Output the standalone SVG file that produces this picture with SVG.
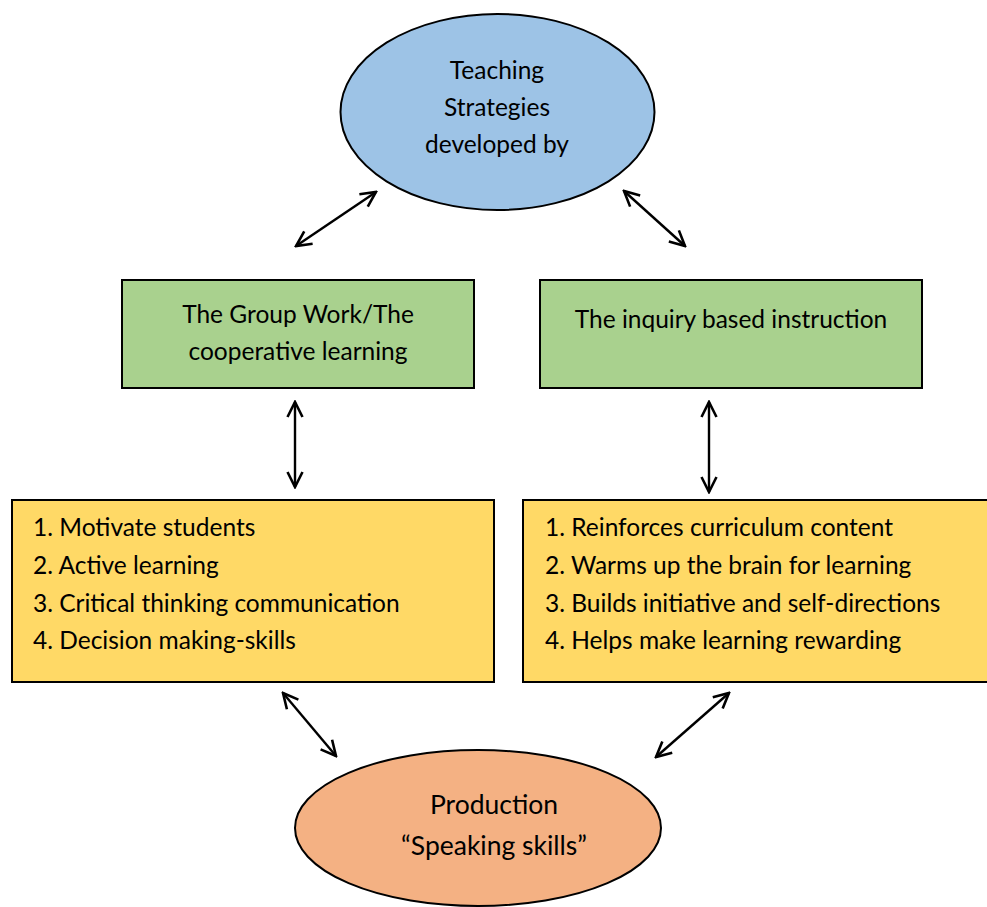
<svg xmlns="http://www.w3.org/2000/svg" width="987" height="907" viewBox="0 0 987 907">
<style>
text{font-family:"Lato","Liberation Sans",sans-serif;font-size:24.5px;fill:#000}
.c{text-anchor:middle}
.p{font-size:26.5px}
.n{stroke:#000;stroke-width:2}
.a{stroke:#000;stroke-width:2.4;fill:none;marker-start:url(#h);marker-end:url(#h)}
</style>
<defs>
<marker id="h" viewBox="-18 -10 20 20" refX="0" refY="0" markerWidth="20" markerHeight="20" markerUnits="userSpaceOnUse" orient="auto-start-reverse">
<path d="M-15,-7.5 L0,0 L-15,7.5" fill="none" stroke="#000" stroke-width="2.6" stroke-linejoin="miter"/>
</marker>
</defs>
<rect width="987" height="907" fill="#fff"/>
<g id="top">
<ellipse class="n" cx="497.5" cy="112" rx="157" ry="98" fill="#9DC3E6"/>
<text class="c" x="497" y="79">Teaching</text>
<text class="c" x="497" y="116">Strategies</text>
<text class="c" x="497" y="153">developed by</text>
</g>
<g id="group-work">
<rect class="n" x="122" y="280" width="352" height="108" fill="#A9D18E"/>
<text class="c" x="298" y="323">The Group Work/The</text>
<text class="c" x="298" y="360">cooperative learning</text>
</g>
<g id="inquiry">
<rect class="n" x="540" y="280" width="382" height="108" fill="#A9D18E"/>
<text class="c" x="731" y="328">The inquiry based instruction</text>
</g>
<g id="left-list">
<rect class="n" x="12" y="500" width="482" height="182" fill="#FFD966"/>
<text x="33" y="536">1. Motivate students</text>
<text x="33" y="574">2. Active learning</text>
<text x="33" y="612">3. Critical thinking communication</text>
<text x="33" y="649">4. Decision making-skills</text>
</g>
<g id="right-list">
<rect class="n" x="523" y="500" width="470" height="182" fill="#FFD966"/>
<text x="545" y="536">1. Reinforces curriculum content</text>
<text x="545" y="574">2. Warms up the brain for learning</text>
<text x="545" y="612">3. Builds initiative and self-directions</text>
<text x="545" y="649">4. Helps make learning rewarding</text>
</g>
<g id="production">
<ellipse class="n" cx="478" cy="828" rx="183" ry="78" fill="#F4B183"/>
<text class="c p" x="494" y="814">Production</text>
<text class="c p" x="494" y="855">“Speaking skills”</text>
</g>
<g id="connectors">
<line class="a" x1="296" y1="246" x2="376" y2="192"/>
<line class="a" x1="624" y1="191" x2="685" y2="246"/>
<line class="a" x1="295" y1="402" x2="295" y2="487"/>
<line class="a" x1="709" y1="402" x2="709" y2="492"/>
<line class="a" x1="283" y1="693" x2="336" y2="756"/>
<line class="a" x1="729" y1="693" x2="656" y2="757"/>
</g>
</svg>
